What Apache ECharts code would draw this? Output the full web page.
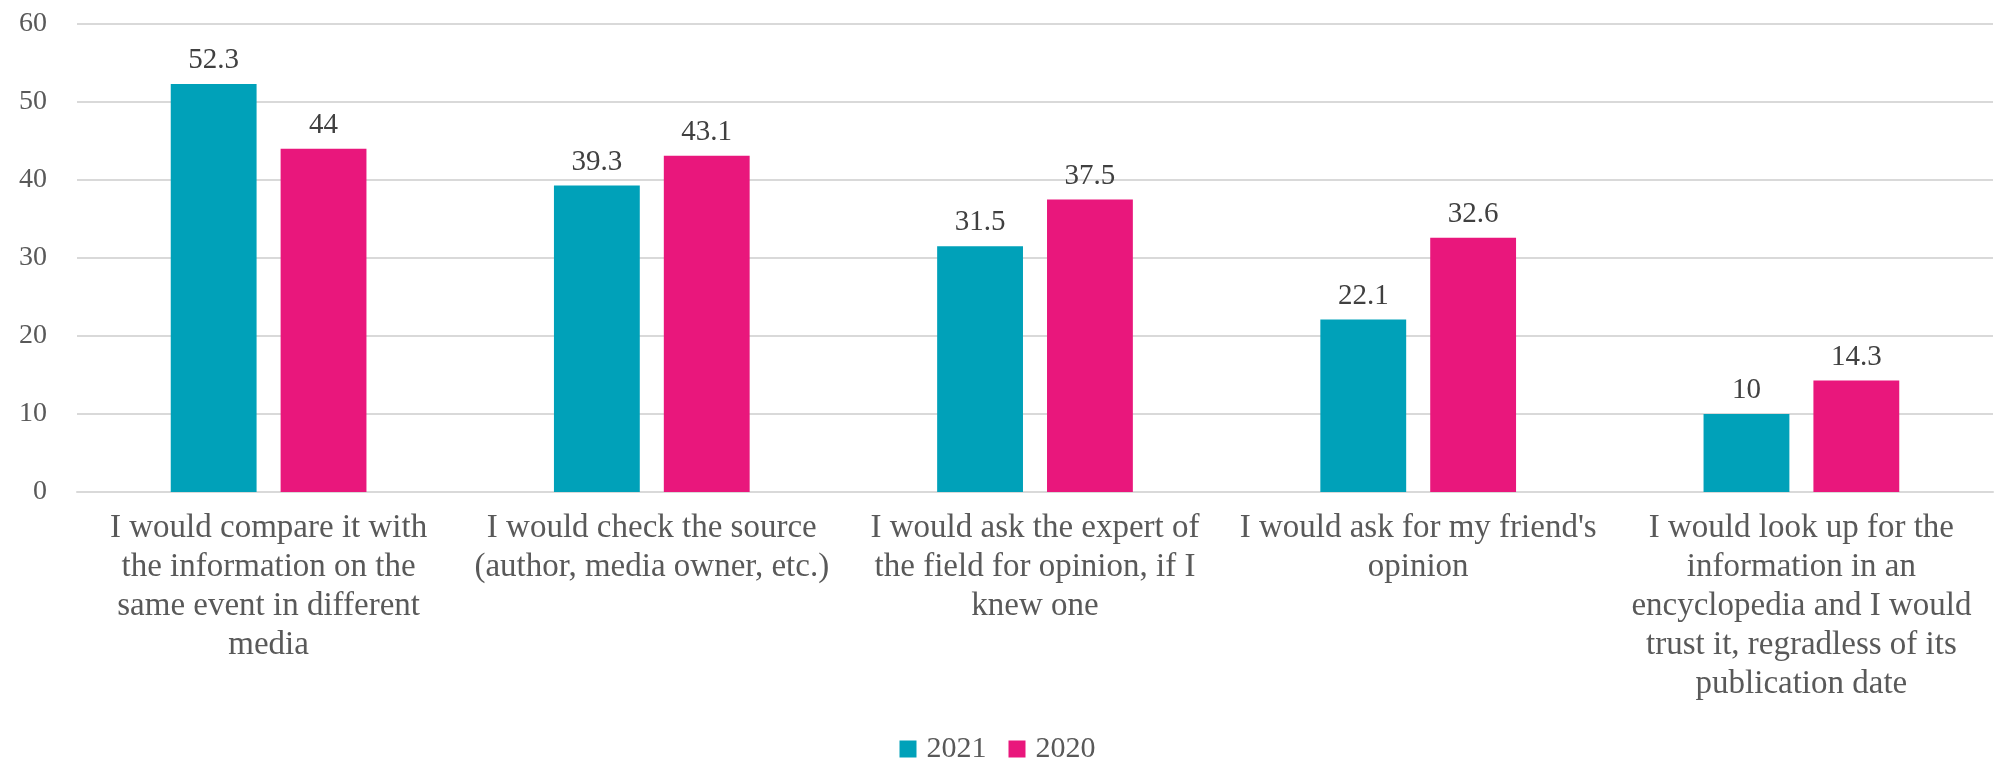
<!DOCTYPE html>
<html>
<head>
<meta charset="utf-8">
<script src="https://cdn.jsdelivr.net/npm/echarts@6/dist/echarts.min.js"></script>
<style>
  html, body { margin: 0; padding: 0; background: #fff; }
  #chart { width: 1995px; height: 765px; }
</style>
</head>
<body>
<div id="chart"></div>
<script>
// Survey answers (wrapped the way they are shown under the axis)
const categories = [
  "I would compare it with\nthe information on the\nsame event in different\nmedia",
  "I would check the source\n(author, media owner, etc.)",
  "I would ask the expert of\nthe field for opinion, if I\nknew one",
  "I would ask for my friend's\nopinion",
  "I would look up for the\ninformation in an\nencyclopedia and I would\ntrust it, regradless of its\npublication date"
];
const values2021 = [52.3, 39.3, 31.5, 22.1, 10];
const values2020 = [44, 43.1, 37.5, 32.6, 14.3];
const seriesNames = ["2021", "2020"];
const yTicks = { min: 0, max: 60, interval: 10 };

const FONT = "'Liberation Serif', 'DejaVu Serif', serif";
const TEAL = "#00A1B9";
const PINK = "#E9177C";

const chart = echarts.init(document.getElementById('chart'), null, { renderer: 'canvas' });

const labelStyle = {
  show: true,
  position: 'top',
  distance: 9,
  color: '#404040',
  fontFamily: FONT,
  fontSize: 29
};

chart.setOption({
  animation: false,
  backgroundColor: '#ffffff',
  grid: { left: 77, right: 2, top: 24, bottom: 273, containLabel: false },
  legend: {
    data: seriesNames,
    bottom: -4,
    left: 'center',
    itemWidth: 17,
    itemHeight: 17,
    itemGap: 22,
    icon: 'rect',
    textStyle: { color: '#595959', fontFamily: FONT, fontSize: 30, padding: [0, 0, 0, 5] }
  },
  xAxis: {
    type: 'category',
    data: categories,
    axisLine: { show: true, lineStyle: { color: '#D9D9D9', width: 2 } },
    axisTick: { show: false },
    axisLabel: {
      interval: 0,
      margin: 17,
      color: '#595959',
      fontFamily: FONT,
      fontSize: 33,
      lineHeight: 39,
      align: 'center'
    }
  },
  yAxis: {
    type: 'value',
    min: yTicks.min,
    max: yTicks.max,
    interval: yTicks.interval,
    axisLine: { show: false },
    axisTick: { show: false },
    splitLine: { lineStyle: { color: '#D9D9D9', width: 2 } },
    axisLabel: {
      margin: 30,
      color: '#595959',
      fontFamily: FONT,
      fontSize: 28
    }
  },
  series: [
    {
      name: seriesNames[0],
      type: 'bar',
      data: values2021,
      barWidth: '22.4%',
      barGap: '28%',
      itemStyle: { color: TEAL },
      label: labelStyle
    },
    {
      name: seriesNames[1],
      type: 'bar',
      data: values2020,
      barWidth: '22.4%',
      barGap: '28%',
      itemStyle: { color: PINK },
      label: labelStyle
    }
  ]
});
</script>
</body>
</html>
